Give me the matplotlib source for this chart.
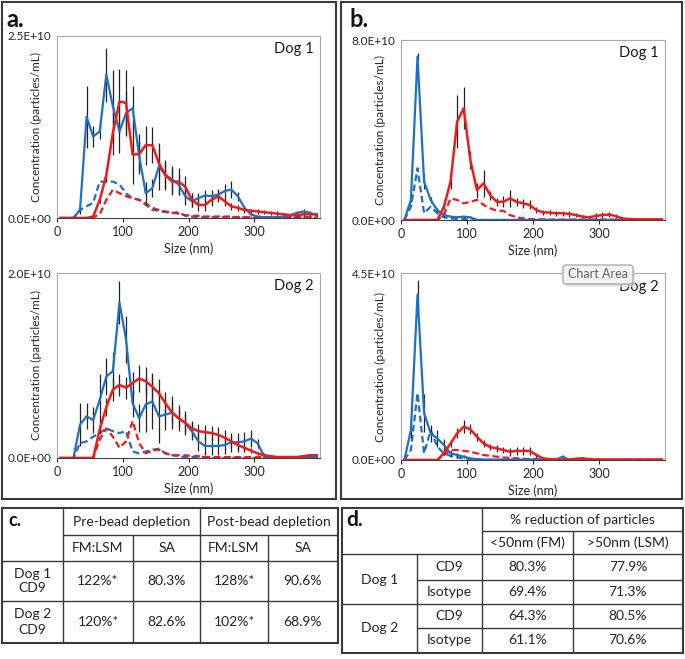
import numpy as np
import matplotlib
matplotlib.use('Agg')
import matplotlib.pyplot as plt
from matplotlib.patches import Rectangle, FancyBboxPatch

plt.rcParams['font.family'] = ['Lato', 'DejaVu Sans']

# particle size bins (nm)
sizes = list(range(5, 400, 10))

# concentrations in units of 1E+10 particles/mL
# panel a, dog 1
a1_blue = [0, 0, 0, 0.11, 1.39, 1.12, 1.19, 1.97, 1.53, 1.19, 1.44, 1.51, 0.85, 0.34, 0.41, 0.71, 0.59, 0.53, 0.46, 0.30,
           0.23, 0.27, 0.31, 0.30, 0.32, 0.37, 0.39, 0.30, 0.14, 0.05, 0.02, 0.01, 0.01, 0.01, 0.02, 0.04, 0.07, 0.09, 0.07, 0.04]
a1_blue_d = [0, 0, 0, 0.11, 0.16, 0.21, 0.50, 0.50, 0.50, 0.46, 0.34, 0.27, 0.25, 0.18, 0.11, 0.10, 0.08, 0.07, 0.08, 0.03,
             0.02, 0.01, 0.01, 0.01, 0.01, 0.01, 0.01, 0.01, 0.01, 0, 0, 0, 0, 0, 0, 0, 0.01, 0.01, 0.01, 0]
a1_red = [0, 0, 0, 0, 0, 0.02, 0.25, 0.59, 1.17, 1.60, 1.58, 0.87, 0.88, 1.00, 1.00, 0.75, 0.59, 0.50, 0.50, 0.43,
          0.25, 0.18, 0.18, 0.25, 0.30, 0.23, 0.16, 0.14, 0.11, 0.10, 0.09, 0.08, 0.07, 0.06, 0.05, 0.04, 0.04, 0.05, 0.05, 0.05]
a1_red_d = [0, 0, 0, 0, 0, 0.01, 0.05, 0.25, 0.39, 0.34, 0.30, 0.27, 0.25, 0.20, 0.14, 0.11, 0.09, 0.07, 0.06, 0.04,
            0.03, 0.03, 0.02, 0.02, 0.02, 0.02, 0.02, 0.01, 0.01, 0.01, 0.01, 0.01, 0.01, 0.01, 0.01, 0.01, 0.01, 0.01, 0.01, 0.01]
a1_blue_err = [0, 0, 0, 0.05, 0.43, 0.15, 0.10, 0.37, 0.50, 0.30, 0.30, 0.30, 0.20, 0.15, 0.12, 0.32, 0.20, 0.18, 0.15, 0.12,
               0.08, 0.08, 0.08, 0.08, 0.08, 0.10, 0.12, 0.06, 0.03, 0.02, 0.02, 0.02, 0.02, 0.02, 0.02, 0.02, 0.03, 0.03, 0.03, 0.02]
a1_red_err = [0, 0, 0, 0, 0, 0, 0.05, 0.10, 0.30, 0.45, 0.45, 0.40, 0.27, 0.27, 0.25, 0.20, 0.18, 0.18, 0.18, 0.15,
              0.10, 0.08, 0.08, 0.08, 0.08, 0.06, 0.05, 0.04, 0.04, 0.03, 0.03, 0.03, 0.03, 0.03, 0.02, 0.02, 0.02, 0.02, 0.02, 0.02]

# panel a, dog 2
a2_blue = [0, 0, 0, 0.36, 0.45, 0.41, 0.63, 0.88, 0.94, 1.68, 1.28, 0.59, 0.43, 0.58, 0.61, 0.45, 0.47, 0.49, 0.43, 0.38,
           0.29, 0.18, 0.13, 0.13, 0.13, 0.14, 0.17, 0.17, 0.18, 0.21, 0.16, 0.02, 0, 0, 0, 0, 0, 0.01, 0.01, 0.01]
a2_blue_d = [0, 0, 0, 0.16, 0.18, 0.23, 0.27, 0.32, 0.29, 0.27, 0.29, 0.07, 0.05, 0.07, 0.09, 0.10, 0.05, 0.03, 0.02, 0.01,
             0.01, 0.01, 0.01, 0, 0, 0, 0, 0, 0, 0, 0, 0, 0, 0, 0, 0, 0, 0, 0.01, 0]
a2_red = [0, 0, 0, 0, 0, 0, 0.31, 0.55, 0.74, 0.79, 0.76, 0.81, 0.86, 0.83, 0.77, 0.70, 0.59, 0.49, 0.43, 0.38,
          0.32, 0.29, 0.28, 0.27, 0.25, 0.22, 0.18, 0.14, 0.11, 0.08, 0.05, 0.03, 0.02, 0.01, 0.01, 0.01, 0.01, 0.02, 0.03, 0.03]
a2_red_d = [0, 0, 0, 0, 0, 0, 0.20, 0.32, 0.23, 0.11, 0.18, 0.40, 0.16, 0.05, 0.08, 0.09, 0.05, 0.03, 0.03, 0.03,
            0.02, 0.02, 0.01, 0.01, 0.01, 0.01, 0.01, 0.01, 0.01, 0.01, 0.01, 0.01, 0.01, 0.01, 0.01, 0.01, 0.01, 0.01, 0.01, 0.01]
a2_blue_err = [0, 0, 0, 0.23, 0.14, 0.14, 0.28, 0.20, 0.21, 0.23, 0.25, 0.15, 0.15, 0.30, 0.30, 0.29, 0.17, 0.18, 0.14, 0.13,
               0.10, 0.10, 0.10, 0.10, 0.10, 0.10, 0.10, 0.10, 0.10, 0.09, 0.05, 0.01, 0.01, 0.01, 0.01, 0.01, 0.01, 0.01, 0.01, 0.01]
a2_red_err = [0, 0, 0, 0, 0, 0, 0.05, 0.10, 0.12, 0.12, 0.12, 0.12, 0.15, 0.15, 0.15, 0.15, 0.12, 0.12, 0.10, 0.10,
              0.08, 0.08, 0.08, 0.08, 0.08, 0.08, 0.06, 0.05, 0.04, 0.03, 0.02, 0.02, 0.01, 0.01, 0.01, 0.01, 0.01, 0.01, 0.01, 0.01]

# panel b, dog 1
b1_blue = [0, 0.89, 7.26, 1.70, 0.89, 0.44, 0.22, 0.15, 0.12, 0.15, 0.12, 0, 0, 0, 0, 0, 0, 0, 0, 0,
           0, 0, 0, 0, 0, 0, 0, 0, 0, 0, 0, 0, 0, 0, 0, 0, 0, 0, 0, 0]
b1_blue_d = [0, 0.59, 2.30, 0.30, 0.59, 0.30, 0.12, 0.07, 0.05, 0.04, 0.02, 0, 0, 0, 0, 0, 0, 0, 0, 0,
             0, 0, 0, 0, 0, 0, 0, 0, 0, 0, 0, 0, 0, 0, 0, 0, 0, 0, 0, 0]
b1_red = [0, 0, 0, 0, 0, 0, 0.59, 1.70, 4.37, 4.96, 2.67, 1.33, 1.63, 1.11, 0.81, 0.81, 0.96, 0.81, 0.74, 0.67,
          0.44, 0.34, 0.33, 0.30, 0.30, 0.27, 0.22, 0.15, 0.12, 0.18, 0.22, 0.24, 0.18, 0.07, 0.04, 0.03, 0.03, 0.03, 0.03, 0.03]
b1_red_d = [0, 0, 0, 0, 0, 0, 0.22, 0.96, 0.89, 0.74, 0.81, 0.89, 0.67, 0.52, 0.41, 0.41, 0.22, 0.12, 0.07, 0.04,
            0.03, 0.03, 0.02, 0.02, 0.02, 0.02, 0.02, 0.02, 0.02, 0.02, 0.02, 0.02, 0.02, 0.02, 0.02, 0.02, 0.02, 0.02, 0.02, 0.02]
b1_blue_err = [0, 0.10, 0.15, 0.33, 0.15, 0.10, 0.08, 0.05, 0.05, 0.05, 0.05, 0, 0, 0, 0, 0, 0, 0, 0, 0,
               0, 0, 0, 0, 0, 0, 0, 0, 0, 0, 0, 0, 0, 0, 0, 0, 0, 0, 0, 0]
b1_red_err = [0, 0, 0, 0, 0, 0, 0.10, 0.30, 1.18, 0.93, 0.40, 0.33, 0.60, 0.20, 0.18, 0.25, 0.37, 0.18, 0.20, 0.20,
              0.15, 0.12, 0.12, 0.12, 0.12, 0.12, 0.10, 0.08, 0.08, 0.12, 0.15, 0.12, 0.08, 0.05, 0.03, 0.03, 0.03, 0.03, 0.03, 0.03]

# panel b, dog 2
b2_blue = [0, 0.72, 3.98, 1.13, 0.64, 0.52, 0.36, 0.16, 0.12, 0.08, 0.04, 0.02, 0.01, 0.01, 0.01, 0.01, 0.01, 0.01, 0.01, 0.01,
           0.01, 0.01, 0.01, 0.01, 0.08, 0, 0, 0, 0, 0, 0, 0, 0, 0, 0, 0, 0, 0, 0, 0]
b2_blue_d = [0, 0.24, 1.61, 0.16, 0.72, 0.32, 0.16, 0.10, 0.06, 0.04, 0.02, 0.01, 0, 0, 0, 0, 0, 0, 0, 0,
             0, 0, 0, 0, 0, 0, 0, 0, 0, 0, 0, 0, 0, 0, 0, 0, 0, 0, 0, 0]
b2_red = [0, 0, 0, 0, 0, 0, 0.16, 0.40, 0.64, 0.80, 0.74, 0.56, 0.40, 0.31, 0.28, 0.24, 0.20, 0.22, 0.22, 0.22,
          0.12, 0.04, 0.02, 0.01, 0.01, 0.01, 0.03, 0.04, 0.02, 0.01, 0.01, 0.01, 0.01, 0.01, 0.01, 0.01, 0.01, 0.01, 0.01, 0.01]
b2_red_d = [0, 0, 0, 0, 0, 0, 0.12, 0.24, 0.24, 0.22, 0.20, 0.16, 0.12, 0.10, 0.08, 0.06, 0.05, 0.04, 0.03, 0.02,
            0.02, 0.01, 0.01, 0.01, 0.01, 0.01, 0.01, 0.01, 0.01, 0.01, 0.01, 0.01, 0.01, 0.01, 0.01, 0.01, 0.01, 0.01, 0.01, 0.01]
b2_blue_err = [0, 0.20, 0.35, 0.45, 0.20, 0.20, 0.15, 0.08, 0.05, 0.03, 0.02, 0, 0, 0, 0, 0, 0, 0, 0, 0,
               0, 0, 0, 0, 0.05, 0, 0, 0, 0, 0, 0, 0, 0, 0, 0, 0, 0, 0, 0, 0]
b2_red_err = [0, 0, 0, 0, 0, 0, 0.05, 0.08, 0.12, 0.16, 0.12, 0.10, 0.08, 0.08, 0.08, 0.08, 0.10, 0.10, 0.10, 0.10,
              0.06, 0.04, 0.02, 0.02, 0.02, 0.02, 0.03, 0.03, 0.02, 0.01, 0.01, 0.01, 0.01, 0.01, 0.01, 0.01, 0.01, 0.01, 0.01, 0.01]

# tables
c_groups = ['Pre-bead depletion', 'Post-bead depletion']
c_cols = ['FM:LSM', 'SA', 'FM:LSM', 'SA']
c_rows = ['Dog 1\nCD9', 'Dog 2\nCD9']
c_vals = [['122%*', '80.3%', '128%*', '90.6%'],
          ['120%*', '82.6%', '102%*', '68.9%']]

d_title = '% reduction of particles'
d_cols = ['<50nm (FM)', '>50nm (LSM)']
d_dogs = ['Dog 1', 'Dog 2']
d_abs = ['CD9', 'Isotype']
d_vals = [['80.3%', '77.9%'], ['69.4%', '71.3%'], ['64.3%', '80.5%'], ['61.1%', '70.6%']]

W, H = 685, 659
BLUE = '#1f6fc2'
RED = '#f01a1a'
DARK = '#3a3a3a'

fig = plt.figure(figsize=(W / 100, H / 100), dpi=100)


def px_axes(l, t, r, b):
    return fig.add_axes([l / W, 1 - b / H, (r - l) / W, (b - t) / H])


def draw(ax, blue, blue_d, red, red_d, blue_err, red_err, ymax, dog):
    s = 1e10
    ax.plot(sizes, np.array(blue_d) * s, color=BLUE, lw=1.6, dashes=(3, 1.6))
    ax.plot(sizes, np.array(red_d) * s, color=RED, lw=1.6, dashes=(3, 1.6))
    ax.errorbar(sizes, np.array(blue) * s, yerr=np.array(blue_err) * s, fmt='none',
                ecolor='#222222', elinewidth=0.9)
    ax.errorbar(sizes, np.array(red) * s, yerr=np.array(red_err) * s, fmt='none',
                ecolor='#222222', elinewidth=0.9)
    ax.plot(sizes, np.array(blue) * s, color=BLUE, lw=1.6)
    ax.plot(sizes, np.array(red) * s, color=RED, lw=1.8)
    ax.set_xlim(0, 400)
    ax.set_ylim(0, ymax * s)
    ax.set_xticks([0, 100, 200, 300])
    ax.set_yticks([0, ymax * s])
    ax.set_yticklabels(['{:.1E}'.format(v) for v in (0, ymax * s)])
    ax.tick_params(axis='x', labelsize=9, colors='#262626', length=3, pad=3)
    ax.tick_params(axis='y', labelsize=8.5, colors='#262626', length=0, pad=4)
    for side in ['top', 'right', 'left']:
        ax.spines[side].set_color('#a8a8a8')
        ax.spines[side].set_linewidth(0.8)
    ax.spines['bottom'].set_color('#404040')
    ax.set_xlabel('Size (nm)', fontsize=9, color='#262626', labelpad=3)
    ax.set_ylabel('Concentration (particles/mL)', fontsize=8.6, color='#262626')
    ax.yaxis.set_label_coords(-0.058, 0.5)
    ax.text(0.975, 0.965, dog, transform=ax.transAxes, ha='right', va='top', fontsize=10.5, color='#1a1a1a')


ax = px_axes(57, 36, 320, 218)
draw(ax, a1_blue, a1_blue_d, a1_red, a1_red_d, a1_blue_err, a1_red_err, 2.5, 'Dog 1')
ax = px_axes(57, 273, 320, 458)
draw(ax, a2_blue, a2_blue_d, a2_red, a2_red_d, a2_blue_err, a2_red_err, 2.0, 'Dog 2')
ax = px_axes(401, 40, 665, 220)
draw(ax, b1_blue, b1_blue_d, b1_red, b1_red_d, b1_blue_err, b1_red_err, 8.0, 'Dog 1')
ax = px_axes(401, 273, 665, 460)
draw(ax, b2_blue, b2_blue_d, b2_red, b2_red_d, b2_blue_err, b2_red_err, 4.5, 'Dog 2')

# overlay in pixel coordinates for borders, labels and tables
ov = fig.add_axes([0, 0, 1, 1], zorder=10)
ov.set_xlim(0, W)
ov.set_ylim(H, 0)
ov.axis('off')
ov.patch.set_alpha(0)

ov.add_patch(Rectangle((2, 2), 334, 497, fill=False, lw=1.5, ec=DARK))
ov.add_patch(Rectangle((341, 2), 341, 497, fill=False, lw=1.5, ec=DARK))
ov.text(6, 27, 'a.', fontsize=17, fontweight='bold', va='baseline', color='#111111')
ov.text(350, 27, 'b.', fontsize=17, fontweight='bold', va='baseline', color='#111111')

# tooltip left on the screenshot
ov.add_patch(FancyBboxPatch((565, 268), 70, 19, boxstyle='round,pad=0,rounding_size=3',
                            fc='#dcdcdc', ec='none', alpha=0.7))
ov.add_patch(FancyBboxPatch((563, 265), 70, 19, boxstyle='round,pad=0,rounding_size=3',
                            fc='#f4f4f6', ec='#9a9a9a', lw=0.8))
ov.text(598, 274.5, 'Chart Area', fontsize=9, color='#606060', ha='center', va='center')


def line(x0, y0, x1, y1, lw=1.0):
    ov.plot([x0, x1], [y0, y1], color=DARK, lw=lw, solid_capstyle='butt')


# table c
cx = [2, 63, 133, 200, 268, 338]
cy = [508, 535, 561, 601, 643]
ov.add_patch(Rectangle((cx[0], cy[0]), cx[-1] - cx[0], cy[-1] - cy[0], fill=False, lw=1.5, ec=DARK))
line(cx[1], cy[1], cx[-1], cy[1])
line(cx[0], cy[2], cx[-1], cy[2])
line(cx[0], cy[3], cx[-1], cy[3])
line(cx[1], cy[0], cx[1], cy[-1])
line(cx[3], cy[0], cx[3], cy[-1])
line(cx[2], cy[1], cx[2], cy[-1])
line(cx[4], cy[1], cx[4], cy[-1])
tk = dict(fontsize=10, color='#222222', ha='center', va='center')
ov.text(8, 521, 'c.', fontsize=13, fontweight='bold', va='center', color='#111111')
for i, g in enumerate(c_groups):
    ov.text((cx[1 + 2 * i] + cx[3 + 2 * i]) / 2, (cy[0] + cy[1]) / 2, g, **tk)
for j, c in enumerate(c_cols):
    ov.text((cx[j + 1] + cx[j + 2]) / 2, (cy[1] + cy[2]) / 2, c, **tk)
for i, r in enumerate(c_rows):
    yc = (cy[i + 2] + cy[i + 3]) / 2
    ov.text((cx[0] + cx[1]) / 2, yc, r, linespacing=1.3, **tk)
    for j, v in enumerate(c_vals[i]):
        ov.text((cx[j + 1] + cx[j + 2]) / 2, yc, v, **tk)

# table d
dx = [342, 417, 482, 573, 683]
dy = [508, 531, 554, 580, 604, 628, 653]
ov.add_patch(Rectangle((dx[0], dy[0]), dx[-1] - dx[0], dy[-1] - dy[0], fill=False, lw=1.5, ec=DARK))
line(dx[2], dy[1], dx[-1], dy[1])
line(dx[0], dy[2], dx[-1], dy[2])
line(dx[1], dy[3], dx[-1], dy[3])
line(dx[0], dy[4], dx[-1], dy[4])
line(dx[1], dy[5], dx[-1], dy[5])
line(dx[2], dy[0], dx[2], dy[-1])
line(dx[3], dy[1], dx[3], dy[-1])
line(dx[1], dy[2], dx[1], dy[-1])
ov.text(346, 520, 'd.', fontsize=15, fontweight='bold', va='center', color='#111111')
ov.text((dx[2] + dx[4]) / 2, (dy[0] + dy[1]) / 2, d_title, **tk)
for j, c in enumerate(d_cols):
    ov.text((dx[j + 2] + dx[j + 3]) / 2, (dy[1] + dy[2]) / 2, c, **tk)
for k, dog in enumerate(d_dogs):
    ov.text((dx[0] + dx[1]) / 2, dy[2 + 2 * k + 1], dog, **tk)
    for m, ab in enumerate(d_abs):
        r = 2 * k + m
        yc = (dy[r + 2] + dy[r + 3]) / 2
        ov.text((dx[1] + dx[2]) / 2, yc, ab, **tk)
        for j, v in enumerate(d_vals[r]):
            ov.text((dx[j + 2] + dx[j + 3]) / 2, yc, v, **tk)

fig.savefig('out.png', dpi=100)
